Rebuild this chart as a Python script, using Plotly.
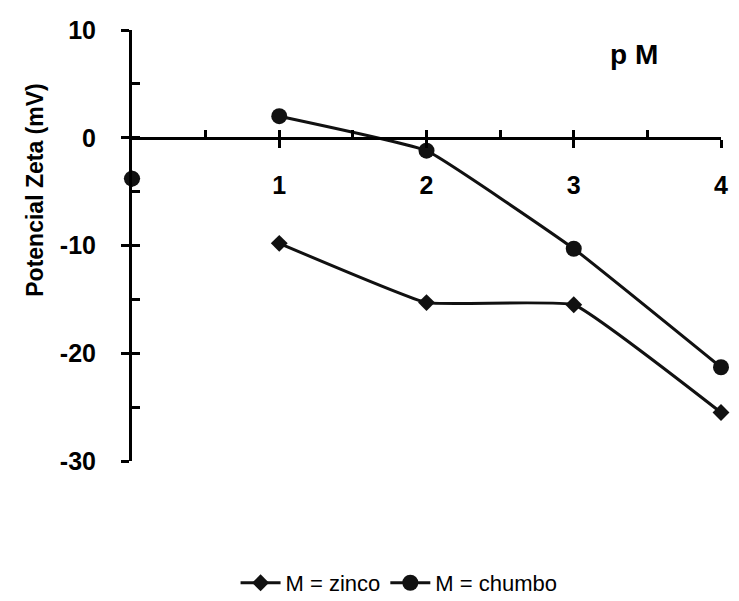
import plotly.graph_objects as go

pM = [0, 1, 2, 3, 4]
zinco = [-3.8, -9.8, -15.3, -15.5, -25.5]
chumbo = [-3.8, 2.0, -1.2, -10.3, -21.3]
x_tick_vals = [1, 2, 3, 4]
x_tick_text = ["1", "2", "3", "4"]
y_tick_vals = [10, 0, -10, -20, -30]
y_tick_text = ["10", "0", "-10", "-20", "-30"]

FONT = "Liberation Sans, Arial, sans-serif"
fig = go.Figure()

series = [
    ("M = zinco", zinco, "diamond", 13),
    ("M = chumbo", chumbo, "circle", 16),
]
for name, ys, sym, sz in series:
    # isolated point at pM = 0 (not connected)
    fig.add_trace(go.Scatter(
        x=pM[:1], y=ys[:1], mode="markers", showlegend=False,
        marker=dict(symbol=sym, size=sz, color="#111111"),
        cliponaxis=False, hoverinfo="skip"))
    fig.add_trace(go.Scatter(
        x=pM[1:], y=ys[1:], mode="lines+markers", name=name,
        line=dict(color="#111111", width=3, shape="spline", smoothing=0.3),
        marker=dict(symbol=sym, size=sz, color="#111111"),
        cliponaxis=False))

fig.update_layout(
    width=739, height=601,
    margin=dict(l=132, r=11, t=30, b=140),
    paper_bgcolor="white", plot_bgcolor="white",
    font=dict(family=FONT, color="black"),
    xaxis=dict(
        range=[0, 4], anchor="free", position=0.75,
        showline=True, linecolor="black", linewidth=3,
        showgrid=False, zeroline=False,
        ticks="outside", ticklen=8, tickwidth=3, tickcolor="black",
        tickvals=x_tick_vals, ticktext=x_tick_text,
        tickfont=dict(size=25, family=FONT, weight="bold"),
        ticklabelstandoff=16,
    ),
    xaxis2=dict(
        range=[0, 4], overlaying="x", anchor="free", position=0.75,
        showline=False, showgrid=False, zeroline=False,
        ticks="inside", ticklen=8, tickwidth=3, tickcolor="black",
        tickvals=[0.5, 1, 1.5, 2, 2.5, 3, 3.5, 4], showticklabels=False,
    ),
    yaxis=dict(
        range=[-30, 10], domain=[0, 1],
        showline=True, linecolor="black", linewidth=3,
        showgrid=False, zeroline=False,
        ticks="outside", ticklen=8, tickwidth=3, tickcolor="black",
        tickvals=y_tick_vals, ticktext=y_tick_text,
        tickfont=dict(size=25, family=FONT, weight="bold"),
        ticklabelstandoff=20,
    ),
    yaxis2=dict(
        range=[-30, 10], overlaying="y", side="left", anchor="x",
        showline=False, showgrid=False, zeroline=False,
        ticks="inside", ticklen=8, tickwidth=3, tickcolor="black",
        tickvals=[10, 5, 0, -5, -10, -15, -20, -25, -30], showticklabels=False,
    ),
    legend=dict(
        orientation="h", xref="container", yref="container",
        x=0.54, xanchor="center", y=0.03, yanchor="middle",
        font=dict(size=22, family=FONT), itemwidth=40,
        bgcolor="rgba(0,0,0,0)",
    ),
    showlegend=True,
)

# dummy trace to activate the secondary axes
fig.add_trace(go.Scatter(x=[None], y=[None], xaxis="x2", yaxis="y2",
                         showlegend=False, hoverinfo="skip"))

fig.add_annotation(
    text="Potencial Zeta (mV)", xref="paper", yref="paper",
    x=-0.165, y=0.629, textangle=-90, showarrow=False,
    font=dict(size=23, family=FONT, weight="bold"),
    xanchor="center", yanchor="middle",
)
fig.add_annotation(
    text="p M", xref="paper", yref="paper",
    x=0.852, y=0.942, showarrow=False,
    font=dict(size=28, family=FONT, weight="bold"),
    xanchor="center", yanchor="middle",
)

fig.write_html("out.html")
